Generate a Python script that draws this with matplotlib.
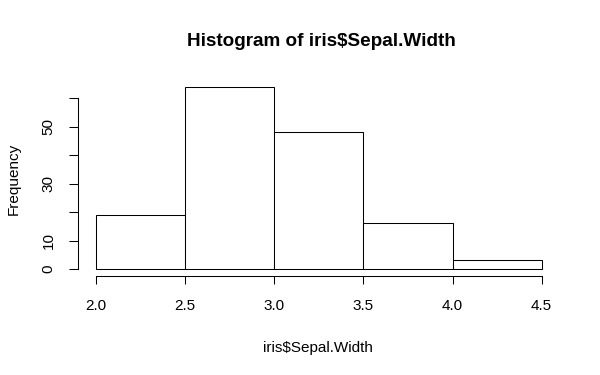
import matplotlib
matplotlib.use("Agg")
import matplotlib.pyplot as plt
import numpy as np

# histogram of iris$Sepal.Width, breaks of 0.5
breaks = [2.0, 2.5, 3.0, 3.5, 4.0, 4.5]
counts = [19, 64, 48, 16, 3]
y_ticks = [0, 10, 20, 30, 40, 50, 60]
y_labels = ["0", "10", "", "30", "", "50", ""]

plt.rcParams['font.family'] = ['Liberation Sans', 'DejaVu Sans']

fig = plt.figure(figsize=(6, 3.75), dpi=100)
ax = fig.add_axes([0.130, 0.2632, 0.8025, 0.5245])

edges = np.array(breaks)
ax.bar(edges[:-1], counts, width=np.diff(edges), align='edge',
       facecolor='white', edgecolor='black', linewidth=0.75)

# R style axes: 4% padding, spines only cover the tick range
xr = breaks[-1] - breaks[0]
ax.set_xlim(breaks[0] - 0.04 * xr, breaks[-1] + 0.04 * xr)
yr = max(counts)
ax.set_ylim(-0.04 * yr, yr * 1.04)

for s in ['top', 'right']:
    ax.spines[s].set_visible(False)
ax.spines['left'].set_bounds(y_ticks[0], y_ticks[-1])
ax.spines['bottom'].set_bounds(breaks[0], breaks[-1])
for s in ['left', 'bottom']:
    ax.spines[s].set_linewidth(0.75)

ax.set_xticks(breaks)
ax.set_xticklabels([f"{b:.1f}" for b in breaks])
ax.set_yticks(y_ticks)
ax.set_yticklabels(y_labels, rotation=90, va='center')
ax.tick_params(axis='x', length=5.5, width=0.75, pad=11, labelsize=11)
ax.tick_params(axis='y', length=6.8, width=0.75, pad=9.4, labelsize=11)

fig.text(321 / 600, 1 - 42 / 375, "Histogram of iris$Sepal.Width", ha='center', va='center',
         fontsize=13.6, fontweight='bold')
fig.text(318 / 600, 1 - 348 / 375, "iris$Sepal.Width", ha='center', va='center', fontsize=11)
fig.text(14 / 600, 1 - 178.5 / 375, "Frequency", ha='center', va='center', rotation=90, fontsize=11)

fig.savefig("out.png", dpi=100)
